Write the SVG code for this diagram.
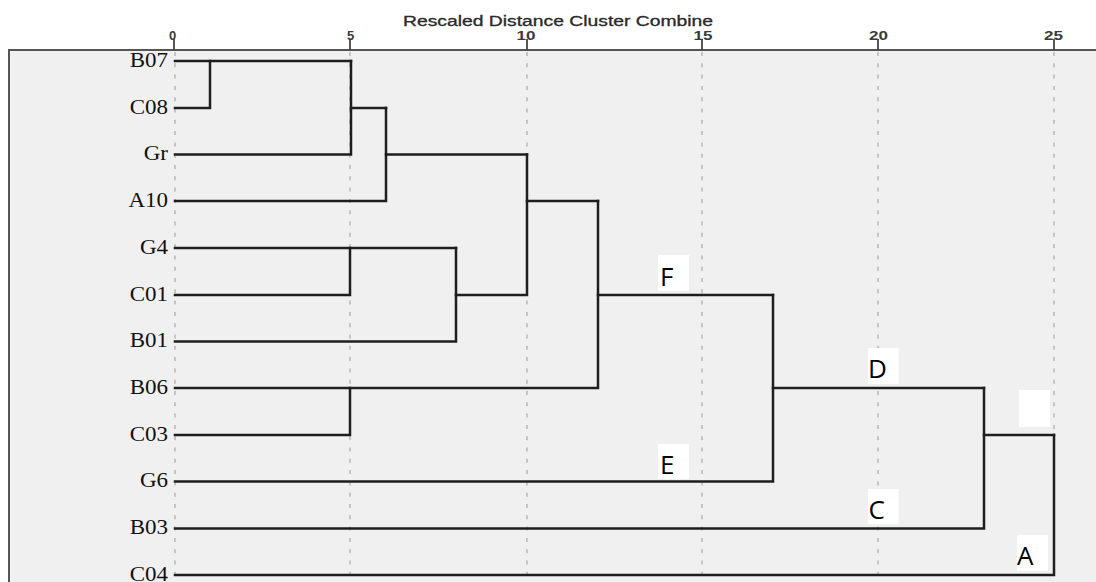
<svg xmlns="http://www.w3.org/2000/svg" width="1096" height="582" viewBox="0 0 1096 582">
<style>
.frame{fill:#f0f0f0;stroke:#555;stroke-width:2}
.grid{stroke:#c4c4c4;stroke-width:2;stroke-dasharray:4 7.3;fill:none}
.tick{stroke:#444;stroke-width:1.8}
.num{font-family:"Liberation Sans",Arial,sans-serif;font-size:13px;font-weight:bold;fill:#3a3a3a;text-anchor:middle}
.title{font-family:"Liberation Sans",Arial,sans-serif;font-size:14px;fill:#2a2a2a;stroke:#2a2a2a;stroke-width:0.3}
.leaf{font-family:"Liberation Serif","Times New Roman",serif;font-size:20px;fill:#111;text-anchor:end}
.tree{fill:none;stroke:#1e1e1e;stroke-width:2.5;stroke-linecap:square}
.box{fill:#ffffff}
.tag{font-family:"Open Sans","Noto Sans",sans-serif;font-size:26px;fill:#000}
</style>
<rect class="frame" x="9" y="50" width="1100" height="560"/>
<g id="axis">
<text class="title" x="403" y="26" textLength="310" lengthAdjust="spacingAndGlyphs">Rescaled Distance Cluster Combine</text>
<g class="grid">
<line x1="175" y1="52" x2="175" y2="582"/>
<line x1="350" y1="52" x2="350" y2="582"/>
<line x1="527" y1="52" x2="527" y2="582"/>
<line x1="702" y1="52" x2="702" y2="582"/>
<line x1="878" y1="52" x2="878" y2="582"/>
<line x1="1054" y1="52" x2="1054" y2="582"/>
</g>
<g class="tick">
<line x1="174" y1="39" x2="174" y2="50"/>
<line x1="350" y1="39" x2="350" y2="50"/>
<line x1="527" y1="39" x2="527" y2="50"/>
<line x1="702" y1="39" x2="702" y2="50"/>
<line x1="878" y1="39" x2="878" y2="50"/>
<line x1="1054" y1="39" x2="1054" y2="50"/>
</g>
<text class="num" x="172.5" y="40">0</text>
<text class="num" x="350.5" y="40">5</text>
<text class="num" x="526" y="40" textLength="19" lengthAdjust="spacingAndGlyphs">10</text>
<text class="num" x="703" y="40" textLength="19" lengthAdjust="spacingAndGlyphs">15</text>
<text class="num" x="878.5" y="40" textLength="19" lengthAdjust="spacingAndGlyphs">20</text>
<text class="num" x="1053.5" y="40" textLength="19" lengthAdjust="spacingAndGlyphs">25</text>
</g>
<g id="leaves" transform="scale(1.15 1)">
<g id="leaf-B07"><text class="leaf" x="146.1" y="67">B07</text></g>
<g id="leaf-C08"><text class="leaf" x="146.1" y="114">C08</text></g>
<g id="leaf-Gr"><text class="leaf" x="146.1" y="160.5">Gr</text></g>
<g id="leaf-A10"><text class="leaf" x="146.1" y="207">A10</text></g>
<g id="leaf-G4"><text class="leaf" x="146.1" y="254">G4</text></g>
<g id="leaf-C01"><text class="leaf" x="146.1" y="301">C01</text></g>
<g id="leaf-B01"><text class="leaf" x="146.1" y="347.5">B01</text></g>
<g id="leaf-B06"><text class="leaf" x="146.1" y="394">B06</text></g>
<g id="leaf-C03"><text class="leaf" x="146.1" y="441">C03</text></g>
<g id="leaf-G6"><text class="leaf" x="146.1" y="487.5">G6</text></g>
<g id="leaf-B03"><text class="leaf" x="146.1" y="534.5">B03</text></g>
<g id="leaf-C04"><text class="leaf" x="146.1" y="581">C04</text></g>
</g>
<g id="connectors" class="tree">
<path d="M175,61 H351"/>
<path d="M175,108 H210 V61"/>
<path d="M175,154.5 H351 V61"/>
<path d="M351,108 H386"/>
<path d="M175,201 H386 V108"/>
<path d="M386,154.5 H527"/>
<path d="M175,248 H456"/>
<path d="M175,295 H350 V248"/>
<path d="M175,341.5 H456 V248"/>
<path d="M456,295 H527 V154.5"/>
<path d="M527,201 H598"/>
<path d="M175,388 H598 V201"/>
<path d="M175,435 H350 V388"/>
<path d="M598,295 H773"/>
<path d="M175,481.5 H773 V295"/>
<path d="M773,388 H984"/>
<path d="M175,528.5 H984 V388"/>
<path d="M984,435 H1054"/>
<path d="M175,575 H1054 V435"/>
</g>
<g id="label-F"><rect class="box" x="658" y="255" width="31" height="36"/><text class="tag" x="660" y="286">F</text></g>
<g id="label-E"><rect class="box" x="658" y="444" width="31" height="35"/><text class="tag" x="660" y="474">E</text></g>
<g id="label-D"><rect class="box" x="868" y="348" width="30.5" height="36"/><text class="tag" x="868" y="378">D</text></g>
<g id="label-blank"><rect class="box" x="1019" y="390" width="31" height="37"/></g>
<g id="label-C"><rect class="box" x="868" y="489" width="30.5" height="35"/><text class="tag" x="868.5" y="519">C</text></g>
<g id="label-A"><rect class="box" x="1017" y="535" width="31" height="36"/><text class="tag" x="1017" y="565">A</text></g>
</svg>
